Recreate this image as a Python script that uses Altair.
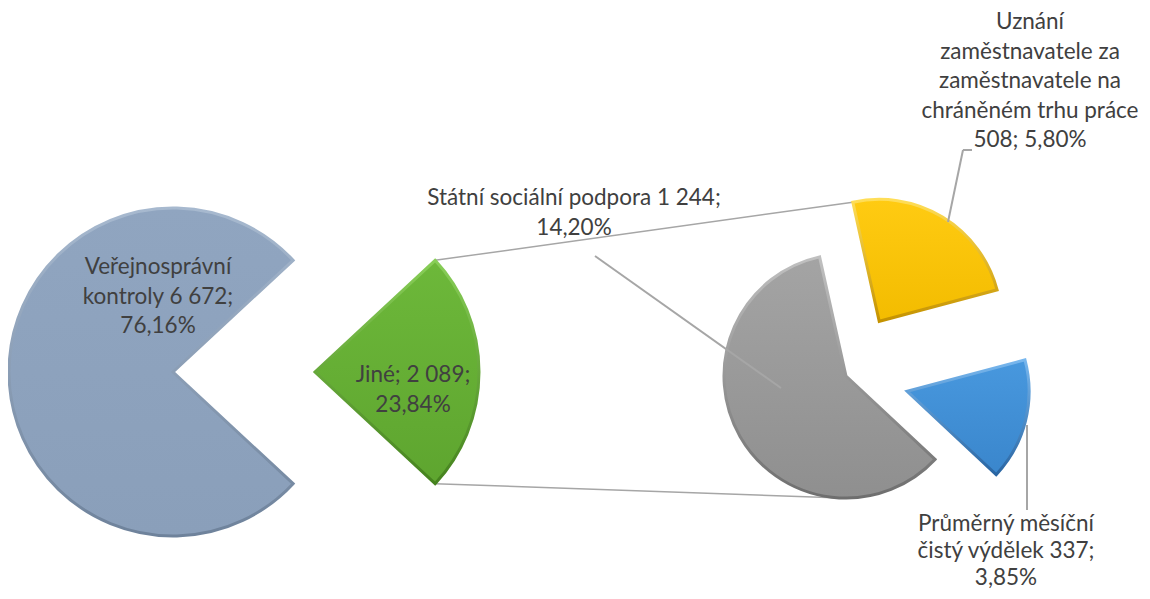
import math
import altair as alt
import pandas as pd

# ---------------- data ----------------
MAIN_CATS = ["Jiné", "Veřejnosprávní kontroly"]
MAIN_VALS = [2089, 6672]
SUB_CATS = ["Uznání zaměstnavatele za zaměstnavatele na chráněném trhu práce",
            "Průměrný měsíční čistý výdělek",
            "Státní sociální podpora"]
SUB_VALS = [508, 337, 1244]
MAIN_LABELS = ["Jiné; 2 089;\n23,84%", "Veřejnosprávní\nkontroly 6 672;\n76,16%"]
SUB_LABELS = ["Uznání\nzaměstnavatele za\nzaměstnavatele na\nchráněném trhu práce\n508; 5,80%",
              "Průměrný měsíční\nčistý výdělek 337;\n3,85%",
              "Státní sociální podpora 1 244;\n14,20%"]

# ---------------- layout (pixels) ----------------
OFF = 8
W, H = 1134, 583
MAIN_C = (173 - OFF, 372 - OFF)
MAIN_R = 164
MAIN_EXPLODE = [142, 0]
SUB_C = (846 - OFF, 376 - OFF)
SUB_R = 122
SUB_EXPLODE = [64, 63, 0]
SUB_START = math.radians(-12.5)
MAIN_START = math.pi / 2 - math.pi * MAIN_VALS[0] / sum(MAIN_VALS)

FONT = "Lato"
FS = 22.5
TXT = "#404040"
LINE = "#A6A6A6"

# (fill top, fill bottom, rim top, rim bottom)
MAIN_FILL = [("#6DB83A", "#5EA52F", "#88CE57", "#45821E"),
             ("#90A5C0", "#8A9FBA", "#A7B9CF", "#6E829B")]
SUB_FILL = [("#FFCB12", "#F3BC00", "#FFDE58", "#C49200"),
            ("#4898DE", "#3A86CC", "#78B7EE", "#2965A2"),
            ("#A4A4A4", "#8F8F8F", "#C0C0C0", "#6E6E6E")]


def grad(c0, c1):
    return alt.Gradient(gradient="linear",
                        stops=[alt.GradientStop(color=c0, offset=0),
                               alt.GradientStop(color=c1, offset=1)],
                        x1=0, x2=0, y1=0, y2=1)


def pie_layers(cats, vals, explode, center, radius, start, fills):
    df = pd.DataFrame({"cat": cats, "value": vals, "ord": list(range(len(cats))),
                       "explode": explode})
    base = (alt.Chart(df)
            .transform_joinaggregate(total="sum(value)")
            .transform_window(cum="sum(value)", sort=[alt.SortField("ord")], frame=[None, 0])
            .transform_calculate(a0=f"{start} + 2*PI*(datum.cum - datum.value)/datum.total")
            .transform_calculate(a1=f"{start} + 2*PI*datum.cum/datum.total")
            .transform_calculate(mid="(datum.a0 + datum.a1)/2")
            .transform_calculate(px=f"{center[0]} + datum.explode*sin(datum.mid)")
            .transform_calculate(py=f"{center[1]} - datum.explode*cos(datum.mid)"))
    layers = []
    for cat, (f0, f1, s0, s1) in zip(cats, fills):
        layers.append(
            base.transform_filter(alt.datum.cat == cat)
            .mark_arc(radius=radius, fill=grad(f0, f1), stroke=grad(s0, s1), strokeWidth=3)
            .encode(theta=alt.Theta("a0:Q", scale=None),
                    theta2=alt.Theta2("a1:Q"),
                    x=alt.X("px:Q", scale=None, axis=None),
                    y=alt.Y("py:Q", scale=None, axis=None))
        )
    return layers


main_layers = pie_layers(MAIN_CATS, MAIN_VALS, MAIN_EXPLODE, MAIN_C, MAIN_R, MAIN_START, MAIN_FILL)
sub_layers = pie_layers(SUB_CATS, SUB_VALS, SUB_EXPLODE, SUB_C, SUB_R, SUB_START, SUB_FILL)

# connector lines (from the exploded "Jiné" slice to the secondary pie)
tot_m = sum(MAIN_VALS)
g_a0 = MAIN_START
g_a1 = MAIN_START + 2 * math.pi * MAIN_VALS[0] / tot_m
g_mid = (g_a0 + g_a1) / 2
gx = MAIN_C[0] + MAIN_EXPLODE[0] * math.sin(g_mid)
gy = MAIN_C[1] - MAIN_EXPLODE[0] * math.cos(g_mid)
tot_s = sum(SUB_VALS)
y_a0 = SUB_START
y_a1 = SUB_START + 2 * math.pi * SUB_VALS[0] / tot_s
y_mid = (y_a0 + y_a1) / 2
yx = SUB_C[0] + SUB_EXPLODE[0] * math.sin(y_mid)
yy = SUB_C[1] - SUB_EXPLODE[0] * math.cos(y_mid)

conn = pd.DataFrame({
    "x": [gx + MAIN_R * math.sin(g_a0), gx + MAIN_R * math.sin(g_a1)],
    "y": [gy - MAIN_R * math.cos(g_a0), gy - MAIN_R * math.cos(g_a1)],
    "x2": [yx + SUB_R * math.sin(y_a0), SUB_C[0] - 4],
    "y2": [yy - SUB_R * math.cos(y_a0), SUB_C[1] + SUB_R],
})
conn_layer = alt.Chart(conn).mark_rule(color=LINE, strokeWidth=1.5).encode(
    x=alt.X("x:Q", scale=None, axis=None), y=alt.Y("y:Q", scale=None, axis=None),
    x2="x2:Q", y2="y2:Q")

# leader lines for the outside labels
LEADERS = [((595, 256), (781, 388)),
           ((972, 150), (963, 150)),
           ((963, 150), (948, 222)),
           ((1027, 425), (1027, 510))]
lead = pd.DataFrame({"x": [a[0] - OFF for a, b in LEADERS], "y": [a[1] - OFF for a, b in LEADERS],
                     "x2": [b[0] - OFF for a, b in LEADERS], "y2": [b[1] - OFF for a, b in LEADERS]})
lead_layer = alt.Chart(lead).mark_rule(color=LINE, strokeWidth=2).encode(
    x=alt.X("x:Q", scale=None, axis=None), y=alt.Y("y:Q", scale=None, axis=None),
    x2="x2:Q", y2="y2:Q")

# labels (position = centre of the first line); the bottom label gets tighter lines
LABEL_POS = [(413, 375), (158, 267), (1030, 22), (1006, 524), (574, 198)]
labels = pd.DataFrame({"label": MAIN_LABELS + SUB_LABELS,
                       "x": [p[0] - OFF for p in LABEL_POS],
                       "y": [p[1] - OFF for p in LABEL_POS],
                       "tight": [0, 0, 0, 1, 0]})


def label_layer(tight, lh):
    return alt.Chart(labels).transform_filter(alt.datum.tight == tight).mark_text(
        font=FONT, fontSize=FS, color=TXT, lineBreak="\n", lineHeight=lh,
        align="center", baseline="middle").encode(
        x=alt.X("x:Q", scale=None, axis=None), y=alt.Y("y:Q", scale=None, axis=None),
        text="label:N")


chart = alt.layer(conn_layer, *main_layers, *sub_layers, lead_layer,
                  label_layer(0, 29.5), label_layer(1, 27)).properties(
    width=W, height=H, padding=0, autosize="none", background="white"
).configure_view(stroke=None)

chart.save("out.html", embed_options={"renderer": "svg", "actions": False})
